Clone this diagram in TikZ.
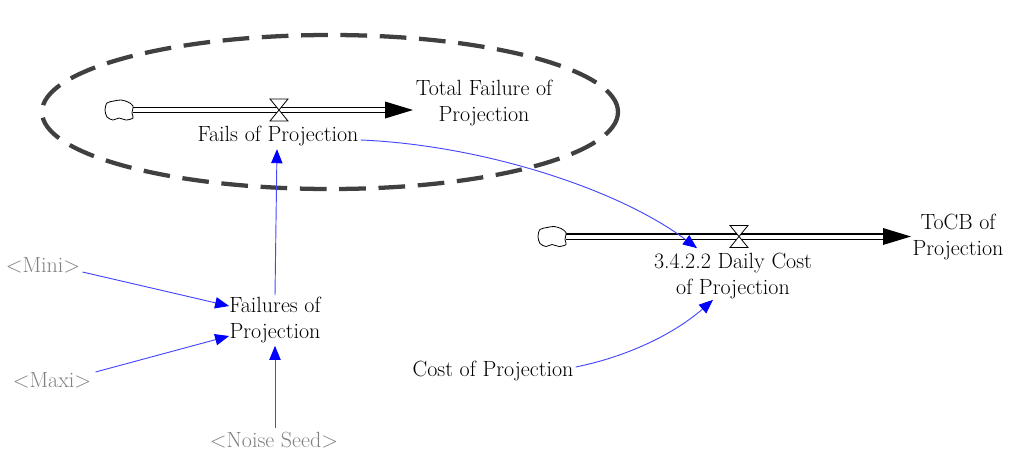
\documentclass[tikz,border=0pt]{standalone}
\usetikzlibrary{arrows.meta,calc}
\definecolor{ringgray}{RGB}{64,64,64}
\definecolor{linkblue}{RGB}{70,70,255}
\begin{document}
\begin{tikzpicture}[x=0.75pt,y=-0.75pt,
  lbl/.style={font=\fontsize{16.5}{19}\selectfont, align=center, inner sep=0pt},
  shadowvar/.style={lbl, text=gray},
  link/.style={draw=linkblue, line width=0.7pt,
    -{Triangle[length=10.5pt,width=8.5pt,color=blue,fill=blue]}},
  pipe/.style={draw=black, double=white, double distance=3pt, line width=0.8pt},
  ring/.style={draw=ringgray, line width=3.2pt, dash pattern=on 20pt off 9.5pt},
  cloudpic/.pic={\draw[line width=0.6pt, fill=white] plot[smooth cycle] coordinates
    {(-14,0) (-12,-7) (-5,-9) (2,-10) (9,-8) (14,-4) (13,3) (14,8) (7,10) (0,8) (-6,10) (-12,7)};},
  valvepic/.pic={\draw[line width=0.6pt, fill=white] (-9,-11) -- (9,-11) -- (-9,11) -- (9,11) -- cycle;},
  headpic/.pic={\fill[black] (0,-8.5) -- (28,0) -- (0,8.5) -- cycle;}
]
\useasboundingbox (0,0) rectangle (1010,450);

% highlighted group
\draw[ring] (330,112) ellipse [x radius=288, y radius=77];

% stock-and-flow: Total Failure of Projection
\coordinate (src1) at (119,110);
\coordinate (head1) at (385,110);
\node[lbl] (tot) at (484,103) {Total Failure of\\Projection};
\draw[pipe] ($(src1)+(14,0)$) -- (head1);
\pic at (head1) {headpic};
\pic at (src1) {cloudpic};
\pic at (279,110) {valvepic};
\node[lbl] (fails) at (278,136) {Fails of Projection};

% stock-and-flow: ToCB of Projection
\coordinate (src2) at (552,236.5);
\coordinate (head2) at (883,236.5);
\node[lbl] (tocb) at (958,237) {ToCB of\\Projection};
\draw[pipe] ($(src2)+(14,0)$) -- (head2);
\pic at (head2) {headpic};
\pic at (src2) {cloudpic};
\pic at (739,236.5) {valvepic};
\node[lbl] (daily) at (733,276) {3.4.2.2 Daily Cost\\of Projection};

% auxiliaries
\node[lbl] (failures) at (275,320) {Failures of\\Projection};
\node[lbl] (cost) at (493,371) {Cost of Projection};
\node[shadowvar] (mini) at (43,265) {<Mini>};
\node[shadowvar] (maxi) at (52,380) {<Maxi>};
\node[shadowvar] (noise) at (274,440) {<Noise Seed>};

% causal links
\draw[link] ($(mini.east)+(2,7)$) -- ($(failures.west)+(0,-14)$);
\draw[link] ($(maxi.east)+(4,-8)$) -- ($(failures.west)+(0,16)$);
\draw[link] ($(noise.north)+(1,-4)$) -- ($(failures.south)+(0,3)$);
\draw[link] ($(failures.north)+(0,-2)$) -- ($(fails.south)+(-1,3)$);
\draw[link] ($(fails.east)+(2,4)$) .. controls +(120,5) and +(-80,-60) .. ($(daily.north)+(-36,-5)$);
\draw[link] ($(cost.east)+(2,-4)$) .. controls +(50,-10) and +(-40,35) .. ($(daily.south)+(-20,1)$);
\end{tikzpicture}
\end{document}
